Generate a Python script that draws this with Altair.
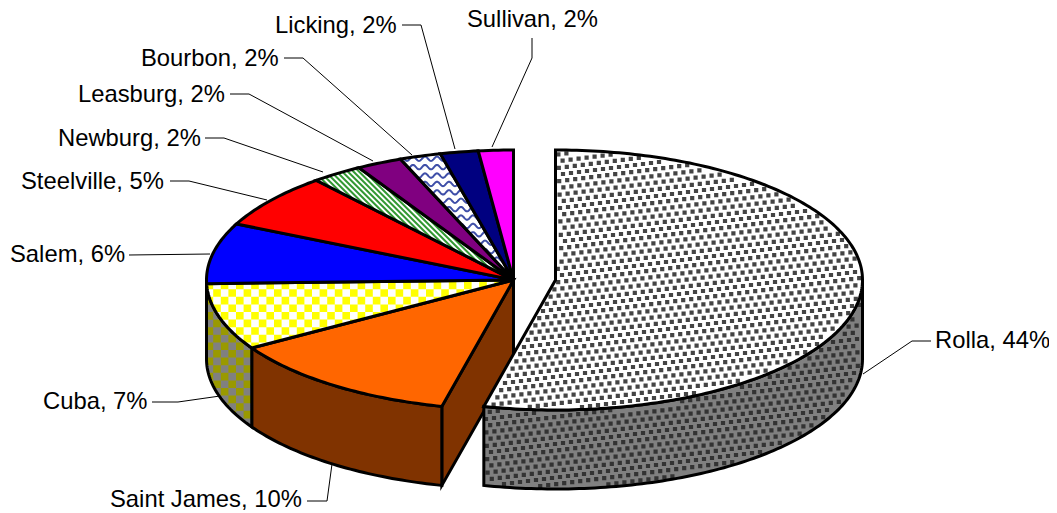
import math
import altair as alt

# ---- values ----
names = ["Rolla", "Saint James", "Cuba", "Salem", "Steelville", "Newburg", "Leasburg", "Bourbon", "Licking", "Sullivan"]
percent_labels = [44, 10, 7, 6, 5, 2, 2, 2, 2, 2]
# underlying slice sizes, estimated from the slice edges
slice_sizes = [53.75, 12.5, 8.3, 7.55, 6.8, 2.7, 2.4, 2.17, 2.0, 1.83]

# ---- layout and style ----
W, H = 1041, 505
OFF = 8
MAIN = (513.5 - OFF, 280 - OFF)
EXPL = (555.5 - OFF, 280 - OFF)
RX, RY, DEPTH = 307, 130, 79
OUT = 3
top_fill = ["#FFFFFF", "#FF6600", "#FFFFFF", "#0000FF", "#FF0000", "#FFFFFF", "#800080", "#FFFFFF", "#000080", "#FF00FF"]
label_left = [935, 110, 43, 10, 21, 58, 78, 141, 275, 467]
label_mid = [341, 500, 402, 255, 182, 139, 95, 59, 26, 20]
leaders = [
    [(931, 341), (912, 341), (863, 374)],
    [(307, 501), (327, 501), (332, 464)],
    [(152, 402), (178, 402), (220, 396)],
    [(129, 255), (210, 254)],
    [(170, 181), (189, 181), (267, 200)],
    [(205, 138), (224, 138), (323, 172)],
    [(230, 94), (249, 94), (373, 161)],
    [(284, 58), (303, 58), (412, 155)],
    [(402, 25), (421, 25), (455, 149)],
    [(532, 38), (532, 58), (492, 147)],
]

total = sum(slice_sizes)
edges = [0.0]
for s in slice_sizes:
    edges.append(edges[-1] + s / total * 360)


def pt(c, t, dy=0.0):
    a = math.radians(t)
    return (c[0] + RX * math.sin(a), c[1] - RY * math.cos(a) + dy)


def arc(c, t0, t1, dy=0.0):
    n = max(2, int(abs(t1 - t0) / 1.0) + 1)
    return [pt(c, t0 + (t1 - t0) * i / n, dy) for i in range(n + 1)]


def closed(p):
    return [[round(x, 2), round(y, 2)] for x, y in list(p) + [p[0]]]


def inside(p, poly):
    x, y = p
    res = False
    j = len(poly) - 1
    for i in range(len(poly)):
        xi, yi = poly[i]
        xj, yj = poly[j]
        if (yi > y) != (yj > y) and x < (xj - xi) * (y - yi) / (yj - yi) + xi:
            res = not res
        j = i
    return res


def bbox(poly):
    xs = [p[0] for p in poly]
    ys = [p[1] for p in poly]
    return min(xs), min(ys), max(xs), max(ys)


features = []


def add(geom, fill="transparent", stroke="transparent", sw=0):
    features.append({"type": "Feature", "geometry": geom,
                     "properties": {"fill": fill, "stroke": stroke, "sw": sw}})


def shape(poly, fill="transparent", stroke="transparent", sw=0):
    add({"type": "Polygon", "coordinates": [closed(poly)]}, fill, stroke, sw)


def rect(x0, y0, x1, y1):
    return [[[round(x0, 2), round(y0, 2)], [round(x1, 2), round(y0, 2)],
             [round(x1, 2), round(y1, 2)], [round(x0, 2), round(y1, 2)], [round(x0, 2), round(y0, 2)]]]


def checker(poly, color, cell=7.6):
    x0, y0, x1, y1 = bbox(poly)
    polys = []
    i0, i1 = int(x0 // cell), int(x1 // cell) + 1
    j0, j1 = int(y0 // cell), int(y1 // cell) + 1
    for i in range(i0, i1):
        for j in range(j0, j1):
            if (i + j) % 2:
                continue
            a, b = i * cell, j * cell
            cs = [(a, b), (a + cell, b), (a, b + cell), (a + cell, b + cell)]
            if all(inside(q, poly) for q in cs):
                polys.append(rect(a, b, a + cell, b + cell))
            else:
                sub = cell / 8
                for r in range(8):
                    run = None
                    for q in range(9):
                        ok = q < 8 and inside((a + (q + .5) * sub, b + (r + .5) * sub), poly)
                        if ok and run is None:
                            run = q
                        if not ok and run is not None:
                            polys.append(rect(a + run * sub, b + r * sub, a + q * sub, b + (r + 1) * sub + .1))
                            run = None
    add({"type": "MultiPolygon", "coordinates": polys}, color)


def dots(poly, color, size=4.2):
    x0, y0, x1, y1 = bbox(poly)
    ax, ay, bx, by = 8.0, -1.0, 4.2, 6.2
    polys = []
    h = size / 2
    for i in range(-250, 250):
        for j in range(-250, 250):
            x = i * ax + j * bx
            y = i * ay + j * by
            if x < x0 or x > x1 or y < y0 or y > y1:
                continue
            if all(inside(q, poly) for q in [(x - h, y - h), (x + h, y - h), (x - h, y + h), (x + h, y + h)]):
                polys.append(rect(x - h, y - h, x + h, y + h))
    add({"type": "MultiPolygon", "coordinates": polys}, color)


def clip_runs(points, poly):
    runs, cur = [], []
    for p in points:
        if inside(p, poly):
            cur.append([round(p[0], 2), round(p[1], 2)])
        else:
            if len(cur) > 1:
                runs.append(cur)
            cur = []
    if len(cur) > 1:
        runs.append(cur)
    return runs


def stripes(poly, color, period=5.6, sw=2.0):
    x0, y0, x1, y1 = bbox(poly)
    lines = []
    k = x0 - (y1 - y0) - period
    while k < x1:
        n = int(y1 - y0) * 2 + 2
        pts = [(k + (y - y0), y) for y in [y0 + i * .5 for i in range(n)]]
        lines += clip_runs(pts, poly)
        k += period
    add({"type": "MultiLineString", "coordinates": lines}, stroke=color, sw=sw)


def waves(poly, color, spacing=8.4, wavelength=12, amp=2.2, sw=2.0):
    x0, y0, x1, y1 = bbox(poly)
    lines = []
    y = y0 + 5
    while y < y1:
        n = int((x1 - x0) * 2) + 2
        pts = [(x0 + i * .5, y + amp * math.sin(2 * math.pi * (x0 + i * .5) / wavelength)) for i in range(n)]
        lines += clip_runs(pts, poly)
        y += spacing
    add({"type": "MultiLineString", "coordinates": lines}, stroke=color, sw=sw)


def outline(poly):
    shape(poly, stroke="#000000", sw=OUT)


def sector(c, t0, t1):
    return [c] + arc(c, t0, t1)


def wall(c, t0, t1):
    return arc(c, t0, t1) + arc(c, t1, t0, DEPTH)


# main pie: walls
t_sj0, t_sj1 = edges[1], edges[2]
cut = [MAIN, pt(MAIN, t_sj0), pt(MAIN, t_sj0, DEPTH), (MAIN[0], MAIN[1] + DEPTH)]
shape(cut, "#803300")
outline(cut)
w = wall(MAIN, t_sj0, t_sj1)
shape(w, "#803300")
outline(w)
w = wall(MAIN, t_sj1, 270)
shape(w, "#808080")
checker(w, "#999900")
outline(w)

# main pie: top slices
for k in range(1, len(names)):
    poly = sector(MAIN, edges[k], edges[k + 1])
    shape(poly, top_fill[k])
    if names[k] == "Cuba":
        checker(poly, "#FFFF00")
    elif names[k] == "Newburg":
        stripes(poly, "#339933")
    elif names[k] == "Bourbon":
        waves(poly, "#3F4FA8")
    outline(poly)

# exploded slice
w = wall(EXPL, 90, edges[1])
shape(w, "#808080")
dots(w, "#333333")
outline(w)
poly = sector(EXPL, 0, edges[1])
shape(poly, top_fill[0])
dots(poly, "#444444")
outline(poly)

# leaders
for ln in leaders:
    add({"type": "LineString", "coordinates": [[x - OFF, y - OFF] for x, y in ln]}, stroke="#000000", sw=1)

label_rows = [{"text": f"{n}, {p}%", "lon": x - OFF, "lat": y - OFF}
              for n, p, x, y in zip(names, percent_labels, label_left, label_mid)]

shapes = alt.Chart(alt.Data(values=features)).mark_geoshape(strokeJoin="miter").encode(
    fill=alt.Fill("properties.fill:N", scale=None),
    stroke=alt.Stroke("properties.stroke:N", scale=None),
    strokeWidth=alt.StrokeWidth("properties.sw:Q", scale=None),
)

texts = alt.Chart(alt.Data(values=label_rows)).mark_text(
    align="left", baseline="middle", font="Liberation Sans", fontSize=23.8, color="#000000"
).encode(longitude="lon:Q", latitude="lat:Q", text="text:N")

chart = alt.layer(shapes, texts).project(type="identity", scale=1, translate=[0, 0]).properties(
    width=W, height=H, padding=0, background="#FFFFFF",
    autosize=alt.AutoSizeParams(type="none"),
).configure_view(stroke=None)

chart.save("out.html", embed_options={"renderer": "svg", "actions": False})
